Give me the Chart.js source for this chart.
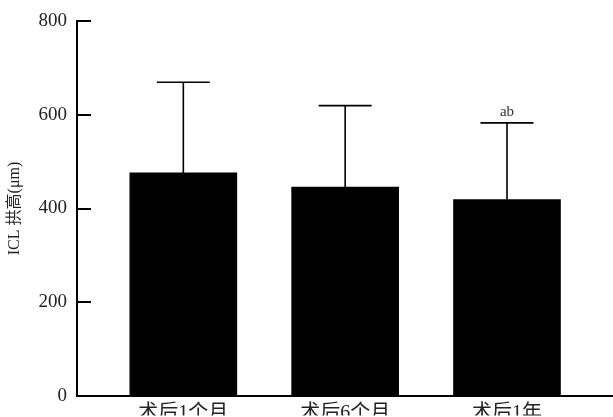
<!DOCTYPE html>
<html>
<head>
<meta charset="utf-8">
<script src="https://cdn.jsdelivr.net/npm/chart.js@4.4.0/dist/chart.umd.min.js"></script>
<style>
    html, body { margin: 0; padding: 0; background: #fff; }
    #wrap { width: 613px; height: 417px; }
</style>
</head>
<body>
<div id="wrap"><canvas id="icvChart"></canvas></div>
<script>
// ICL拱高 术后随访
const labels = ['术后1个月', '术后6个月', '术后1年'];
const means = [476, 446, 419];
const sds = [194, 174, 164];
const sigLabels = ['', '', 'ab'];
const yTicks = [0, 200, 400, 600, 800];

const serif = '"Liberation Serif", "Noto Sans CJK SC", serif';

// error bars (only upward) + significance letters
const errorBars = {
    id: 'errorBars',
    afterDatasetsDraw(chart) {
        const ctx = chart.ctx;
        const y = chart.scales.y;
        const meta = chart.getDatasetMeta(0);
        ctx.save();
        ctx.strokeStyle = '#000';
        ctx.lineWidth = 1.6;
        meta.data.forEach((bar, i) => {
            const top = y.getPixelForValue(means[i] + sds[i]);
            ctx.beginPath();
            ctx.moveTo(bar.x, bar.y);
            ctx.lineTo(bar.x, top);
            ctx.moveTo(bar.x - 26.5, top);
            ctx.lineTo(bar.x + 26.5, top);
            ctx.stroke();
            if (sigLabels[i]) {
                ctx.fillStyle = '#333';
                ctx.font = '15px ' + serif;
                ctx.textAlign = 'center';
                ctx.textBaseline = 'bottom';
                ctx.fillText(sigLabels[i], bar.x, top - 3);
            }
        });
        ctx.restore();
    }
};

// tick marks pointing inside the plot
const innerTicks = {
    id: 'innerTicks',
    afterDraw(chart) {
        const ctx = chart.ctx;
        const y = chart.scales.y;
        const left = chart.chartArea.left;
        ctx.save();
        ctx.strokeStyle = '#000';
        ctx.lineWidth = 2;
        yTicks.forEach(v => {
            if (v == 0) return;
            const py = Math.round(y.getPixelForValue(v));
            ctx.beginPath();
            ctx.moveTo(left, py);
            ctx.lineTo(left + 14, py);
            ctx.stroke();
        });
        ctx.restore();
    }
};

new Chart(document.getElementById('icvChart'), {
    type: 'bar',
    data: {
        datasets: [{
            data: means.map((m, i) => ({ x: i, y: m })),
            backgroundColor: '#000',
            borderWidth: 0,
            barThickness: 107
        }]
    },
    options: {
        responsive: true,
        maintainAspectRatio: false,
        animation: false,
        layout: { padding: { top: 12, right: 0, bottom: 0, left: 0 } },
        plugins: {
            legend: { display: false },
            tooltip: { enabled: false }
        },
        scales: {
            x: {
                type: 'linear',
                offset: false,
                min: -0.657,
                max: 2.655,
                grid: { display: false, drawTicks: false },
                border: { display: true, color: '#000', width: 2 },
                afterBuildTicks: (scale) => {
                    scale.ticks = labels.map((l, i) => ({ value: i }));
                },
                afterFit: (scale) => { scale.height = 20; },
                ticks: {
                    padding: 6,
                    autoSkip: false,
                    maxRotation: 0,
                    color: '#222',
                    font: { family: serif, size: 20 },
                    callback: (v) => labels[v]
                }
            },
            y: {
                min: 0,
                max: 800,
                grid: { display: false, drawTicks: false },
                border: { display: true, color: '#000', width: 2 },
                afterBuildTicks: (scale) => {
                    scale.ticks = yTicks.map(v => ({ value: v }));
                },
                afterFit: (scale) => { scale.width = 77; },
                ticks: {
                    padding: 10,
                    color: '#222',
                    font: { family: serif, size: 19 }
                },
                title: {
                    display: true,
                    text: 'ICL 拱高(μm)',
                    color: '#222',
                    padding: { top: 5, bottom: 0 },
                    font: { family: serif, size: 16 }
                }
            }
        }
    },
    plugins: [errorBars, innerTicks]
});
</script>
</body>
</html>
